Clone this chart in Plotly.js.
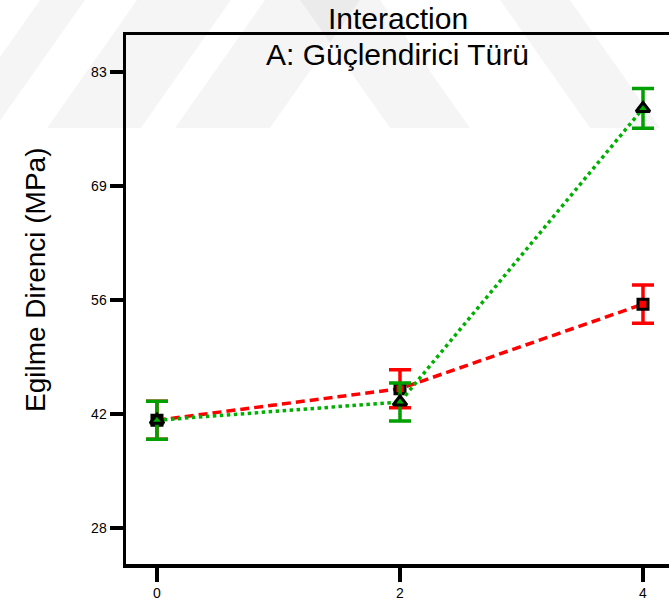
<!DOCTYPE html>
<html>
<head>
<meta charset="utf-8">
<script src="https://cdn.plot.ly/plotly-3.0.1.min.js"></script>
<style>html,body{margin:0;padding:0;background:#fff;overflow:hidden}</style>
</head>
<body>
<div id="chart" style="width:669px;height:606px"></div>
<script>
// Data
const xLevels = [0, 2, 4];
const redMeans = [41.0, 44.8, 55.0];
const redErr = [2.3, 2.3, 2.3];
const greenMeans = [41.0, 43.2, 78.6];
const greenErr = [2.3, 2.3, 2.4];
const yTickVals = [28, 41.75, 55.5, 69.25, 83];
const yTickText = ['28', '42', '56', '69', '83'];
const xTickVals = [0, 2, 4];
const xTickText = ['0', '2', '4'];

const FONT = 'Arial, "Liberation Sans", Helvetica, sans-serif';

// plot area in pixels (for decorative watermark placement)
const PL = 126, PR = 669, PT = 35, PB = 564;
function pxPath(pts) {
  return pts.map((p, i) => (i ? 'L ' : 'M ') + ((p[0] - PL) / (PR - PL)).toFixed(4) + ' ' + ((PB - p[1]) / (PB - PT)).toFixed(4)).join(' ') + ' Z';
}
const bands = [
  [[-50,128],[-5,128],[85,0],[40,0]],
  [[47,128],[141,128],[231,0],[137,0]],
  [[175,128],[270,128],[360,0],[265,0]],
  [[300,0],[380,0],[470,128],[390,128]],
  [[500,0],[570,0],[660,128],[590,128]]
];
const wmShapes = bands.map(b => ({
  type: 'path', xref: 'paper', yref: 'paper', layer: 'below',
  line: {width: 0}, fillcolor: 'rgba(0,0,0,0.04)', path: pxPath(b)
}));

const traces = [
  {
    x: xLevels, y: redMeans, type: 'scatter', mode: 'lines+markers',
    line: {color: '#ff0000', width: 3.5, dash: '9px,5px'},
    marker: {symbol: 'square', size: 10, color: '#ff0000', line: {color: '#000', width: 3}},
    error_y: {type: 'data', array: redErr, visible: true, color: '#ff0000', thickness: 3.5, width: 11},
    hoverinfo: 'skip', showlegend: false
  },
  {
    x: xLevels, y: greenMeans, type: 'scatter', mode: 'lines+markers',
    line: {color: '#00b000', width: 3.5, dash: 'dot'},
    marker: {symbol: 'triangle-up', size: 12, color: '#00aa00', line: {color: '#000', width: 3}},
    error_y: {type: 'data', array: greenErr, visible: true, color: '#00a000', thickness: 3.5, width: 11},
    hoverinfo: 'skip', showlegend: false
  }
];

const layout = {
  width: 669, height: 606,
  margin: {l: PL, r: 669 - PR, t: PT, b: 606 - PB},
  paper_bgcolor: '#fff', plot_bgcolor: 'rgba(0,0,0,0)',
  font: {family: FONT, color: '#000'},
  showlegend: false,
  xaxis: {
    range: [-0.255, 4.214], showgrid: false, zeroline: false,
    showline: true, linecolor: '#000', linewidth: 3.5, mirror: true,
    ticks: 'outside', ticklen: 14, tickwidth: 3.5, tickcolor: '#000',
    tickvals: xTickVals, ticktext: xTickText,
    tickfont: {size: 14, family: FONT}
  },
  yaxis: {
    range: [23.66, 87.46], showgrid: false, zeroline: false,
    showline: true, linecolor: '#000', linewidth: 3.5, mirror: false,
    ticks: 'outside', ticklen: 13, tickwidth: 3.5, tickcolor: '#000',
    tickvals: yTickVals, ticktext: yTickText,
    tickfont: {size: 14, family: FONT}
  },
  annotations: [
    {text: 'Interaction', xref: 'paper', yref: 'paper', x: 0.5, y: 1, yshift: 17, xanchor: 'center', yanchor: 'middle',
     showarrow: false, font: {size: 30, family: FONT}},
    {text: 'A: Güçlendirici Türü', xref: 'paper', yref: 'paper', x: 0.5, y: 1, yshift: -19, xanchor: 'center', yanchor: 'middle',
     showarrow: false, font: {size: 30, family: FONT}},
    {text: 'Egilme Direnci (MPa)', xref: 'paper', yref: 'paper', x: 0, y: (PB - 280) / (PB - PT), xshift: -(PL - 35),
     xanchor: 'center', yanchor: 'middle', textangle: -90, showarrow: false, font: {size: 28, family: FONT}}
  ],
  shapes: wmShapes
};

Plotly.newPlot('chart', traces, layout, {staticPlot: true, displayModeBar: false});
</script>
</body>
</html>
